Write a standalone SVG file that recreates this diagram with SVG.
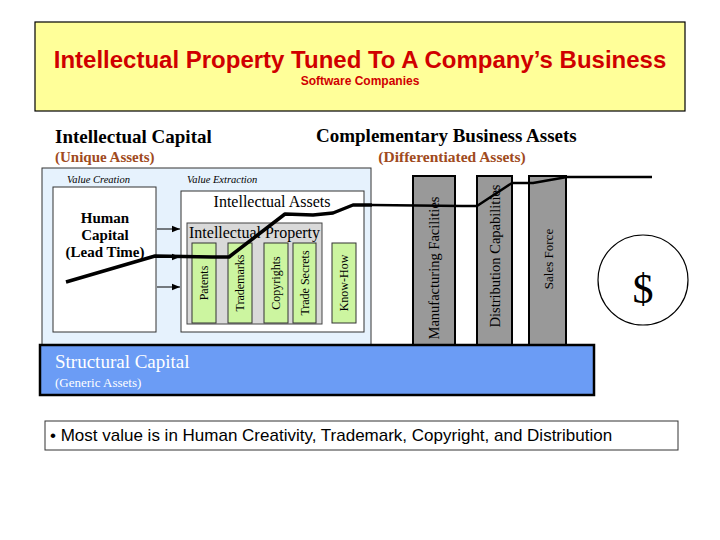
<svg xmlns="http://www.w3.org/2000/svg" width="720" height="540" viewBox="0 0 720 540">
<style>
.serif{font-family:"Liberation Serif","Times New Roman",serif;fill:#000}
.b{font-weight:bold}
.brown{fill:#a04a20}
.it{font-style:italic;font-size:10.5px}
.green{fill:#ccf5a0;stroke:#333;stroke-width:1}
.gbar{fill:#999;stroke:#000;stroke-width:2}
.lbl{font-size:12px;text-anchor:middle}
.vlbl{text-anchor:middle}
.arrow{stroke:#000;stroke-width:1;fill:none}
</style>
<defs>
<marker id="ah" viewBox="0 0 10 10" refX="10" refY="5" markerWidth="8" markerHeight="8" markerUnits="userSpaceOnUse" orient="auto">
<path d="M0,1 L10,5 L0,9 Z" fill="#000"/>
</marker>
</defs>
<rect width="720" height="540" fill="#fff"/>
<g id="title">
<rect x="35" y="22" width="650" height="89" fill="#ffff99" stroke="#000" stroke-width="1.2"/>
<text x="360" y="68" text-anchor="middle" font-family="Liberation Sans,Arial,sans-serif" font-weight="bold" font-size="24" fill="#d00000">Intellectual Property Tuned To A Company’s Business</text>
<text x="360" y="85" text-anchor="middle" font-family="Liberation Sans,Arial,sans-serif" font-weight="bold" font-size="12" fill="#d00000">Software Companies</text>
</g>
<g id="headers">
<text class="serif b" x="55" y="143" font-size="19">Intellectual Capital</text>
<text class="serif b brown" x="55" y="162" font-size="15">(Unique Assets)</text>
<text class="serif b" x="316" y="142" font-size="19">Complementary Business Assets</text>
<text class="serif b brown" x="452" y="162" font-size="15.5" text-anchor="middle">(Differentiated Assets)</text>
</g>
<g id="intellectual-capital">
<rect x="42" y="168" width="329" height="177" fill="#e6f2fd" stroke="#333" stroke-width="1"/>
<text class="serif it" x="67" y="183">Value Creation</text>
<text class="serif it" x="187" y="183">Value Extraction</text>
</g>
<g id="human-capital">
<rect x="53" y="187" width="103" height="145" fill="#fff" stroke="#333" stroke-width="1"/>
<text class="serif b" x="105" y="223" font-size="15" text-anchor="middle">Human</text>
<text class="serif b" x="105" y="240" font-size="15" text-anchor="middle">Capital</text>
<text class="serif b" x="105" y="257" font-size="15" text-anchor="middle">(Lead Time)</text>
</g>
<g id="intellectual-assets">
<rect x="181" y="191" width="183" height="141" fill="#fff" stroke="#333" stroke-width="1"/>
<text class="serif" x="272" y="207" font-size="16" text-anchor="middle">Intellectual Assets</text>
</g>
<g id="intellectual-property">
<rect x="187" y="223" width="135" height="101" fill="#d9d9d9" stroke="#444" stroke-width="1"/>
<text class="serif" x="189" y="238" font-size="16">Intellectual Property</text>
</g>
<g id="patents"><rect class="green" x="192" y="243" width="24" height="80"/><text class="serif lbl" transform="translate(208,283) rotate(-90)">Patents</text></g>
<g id="trademarks"><rect class="green" x="228" y="243" width="24" height="80"/><text class="serif lbl" transform="translate(244,283) rotate(-90)">Trademarks</text></g>
<g id="copyrights"><rect class="green" x="264" y="243" width="24" height="80"/><text class="serif lbl" transform="translate(280,283) rotate(-90)">Copyrights</text></g>
<g id="trade-secrets"><rect class="green" x="293" y="243" width="23" height="80"/><text class="serif lbl" transform="translate(308.5,283) rotate(-90)">Trade Secrets</text></g>
<g id="know-how"><rect class="green" x="332" y="243" width="24" height="80"/><text class="serif lbl" transform="translate(348,283) rotate(-90)">Know-How</text></g>
<g id="manufacturing"><rect class="gbar" x="413" y="176" width="42" height="172"/><text class="serif vlbl" font-size="14.5" transform="translate(439,268) rotate(-90)">Manufacturing Facilities</text></g>
<g id="distribution"><rect class="gbar" x="477" y="176" width="35" height="172"/><text class="serif vlbl" font-size="14.5" transform="translate(500,256) rotate(-90)">Distribution Capabilities</text></g>
<g id="sales-force"><rect class="gbar" x="529" y="176" width="37" height="172"/><text class="serif vlbl" font-size="13" transform="translate(553,259) rotate(-90)">Sales Force</text></g>
<g id="structural-capital">
<rect x="40" y="345" width="554" height="50" fill="#6b9cf5" stroke="#000" stroke-width="2.5"/>
<text class="serif" x="55" y="368" font-size="19" style="fill:#fff">Structural Capital</text>
<text class="serif" x="55" y="387" font-size="13" style="fill:#fff">(Generic Assets)</text>
</g>
<g id="dollar">
<circle cx="643" cy="280" r="45" fill="#fff" stroke="#000" stroke-width="1.2"/>
<text class="serif" x="643" y="303" font-size="42" text-anchor="middle">$</text>
</g>
<g id="connectors">
<line class="arrow" x1="157" y1="229" x2="180" y2="229" marker-end="url(#ah)"/>
<line class="arrow" x1="157" y1="257" x2="180" y2="257" marker-end="url(#ah)"/>
<line class="arrow" x1="157" y1="287" x2="180" y2="287" marker-end="url(#ah)"/>
<polyline points="66,282 155,256 212,257 229,257 285,214 313,215 333,213 353,205 372,205" fill="none" stroke="#000" stroke-width="3.5" stroke-linejoin="round"/>
<polyline points="372,205 462,206 477,206 512,183 533,183 567,177 652,177" fill="none" stroke="#000" stroke-width="2.5" stroke-linejoin="round"/>
</g>
<g id="note">
<rect x="45" y="421" width="633" height="29" fill="#fff" stroke="#333" stroke-width="1"/>
<text x="50" y="441" font-family="Liberation Sans,Arial,sans-serif" font-size="17" fill="#000">• Most value is in Human Creativity, Trademark, Copyright, and Distribution</text>
</g>
</svg>
